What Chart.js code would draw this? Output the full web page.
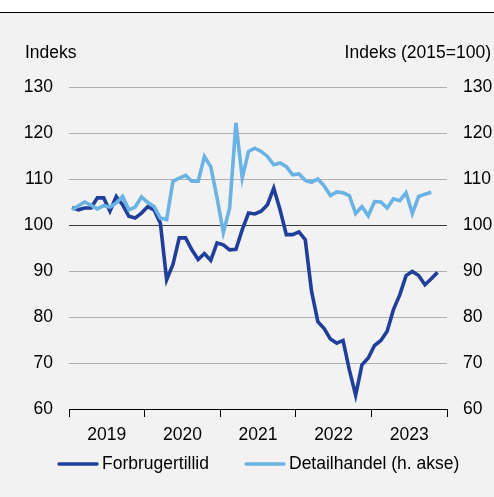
<!DOCTYPE html>
<html><head><meta charset="utf-8">
<script src="https://cdn.jsdelivr.net/npm/chart.js@4.4.0/dist/chart.umd.min.js"></script>
<style>html,body{margin:0;padding:0;background:#f2f2f2;overflow:hidden}#wrap{width:494px;height:497px;position:relative}</style>
</head><body><div id="wrap"><canvas id="c" width="494" height="497"></canvas></div>
<script>
const years = ['2019', '2020', '2021', '2022', '2023'];
const seriesNames = ['Forbrugertillid', 'Detailhandel (h. akse)'];
const leftTitle = 'Indeks';
const rightTitle = 'Indeks (2015=100)';
// Monthly values, Jan 2019 onwards
const forbrugertillid = [103.8, 103.3, 103.7, 103.7, 105.9, 105.9, 103.0, 106.2, 104.4, 101.9, 101.5, 102.6,
  104.0, 103.3, 100.4, 88.1, 91.4, 97.2, 97.2, 94.6, 92.5, 93.8, 92.3, 96.1,
  95.7, 94.6, 94.7, 99.0, 102.6, 102.4, 103.0, 104.4, 108.0, 103.3, 97.9, 97.9,
  98.5, 96.8, 85.6, 79.0, 77.5, 75.2, 74.3, 74.9, 68.5, 63.0, 69.6, 71.1,
  73.8, 74.9, 76.9, 81.6, 84.8, 89.0, 89.9, 89.0, 87.0, 88.3, 89.7];
const detailhandel = [103.3, 104.2, 105.0, 104.3, 103.5, 104.2, 103.9, 104.8, 106.2, 103.3, 103.9, 106.1,
  104.9, 104.0, 101.5, 101.2, 109.5, 110.2, 110.8, 109.5, 109.5, 114.9, 112.7, 105.9,
  98.4, 103.7, 122.2, 110.2, 116.0, 116.7, 116.0, 114.9, 113.1, 113.5, 112.7, 110.9,
  111.1, 109.7, 109.3, 110.0, 108.5, 106.4, 107.2, 107.0, 106.4, 102.5, 104.0, 102.0,
  105.1, 105.0, 103.7, 105.7, 105.3, 107.0, 102.5, 106.2, 106.7, 107.1];
const yTicks = [60, 70, 80, 90, 100, 110, 120, 130];

const FONT = '"Liberation Sans", Arial, sans-serif';
const FS = 17.5;
Chart.defaults.font.family = FONT;
Chart.defaults.font.size = FS;
Chart.defaults.color = '#000';

const deco = {
  id: 'deco',
  beforeDraw(chart) {
    const c = chart.ctx;
    c.save();
    c.fillStyle = '#ffffff';
    c.fillRect(0, 0, chart.width, 12);
    c.fillStyle = '#f2f2f2';
    c.fillRect(0, 13, chart.width, chart.height - 13);
    c.fillStyle = '#000000';
    c.fillRect(0, 12, chart.width, 1);
    c.restore();
  },
  afterDraw(chart) {
    const c = chart.ctx;
    c.save();
    c.font = FS + 'px ' + FONT;
    c.fillStyle = '#000';
    c.textBaseline = 'alphabetic';
    c.textAlign = 'left';
    c.fillText(leftTitle, 25, 58);
    c.textAlign = 'right';
    c.fillText(rightTitle, 491, 58);
    // legend
    const starts = [58, 245];
    c.textAlign = 'left';
    c.textBaseline = 'middle';
    chart.data.datasets.forEach((ds, i) => {
      const x0 = starts[i], y = 464;
      c.strokeStyle = ds.borderColor;
      c.lineWidth = 3.5;
      c.lineCap = 'round';
      c.beginPath(); c.moveTo(x0 + 1, y); c.lineTo(x0 + 39, y); c.stroke();
      c.fillStyle = '#000';
      c.fillText(ds.label, x0 + 44, y);
    });
    c.restore();
  }
};

new Chart(document.getElementById('c'), {
  type: 'line',
  data: {
    datasets: [
      { label: seriesNames[0], data: forbrugertillid.map((v, i) => ({ x: i + 0.5, y: v })),
        borderColor: '#1f3f9b', borderWidth: 3.6, pointRadius: 0, tension: 0, yAxisID: 'y', order: 1 },
      { label: seriesNames[1], data: detailhandel.map((v, i) => ({ x: i + 0.5, y: v })),
        borderColor: '#6ab3e4', borderWidth: 3.6, pointRadius: 0, tension: 0, yAxisID: 'y1', order: 0 }
    ]
  },
  options: {
    responsive: false,
    animation: false,
    layout: { padding: { top: 87, left: 0, right: 0, bottom: 0 } },
    plugins: { legend: { display: false }, tooltip: { enabled: false } },
    scales: {
      x: {
        type: 'linear', min: 0, max: 60, position: 'bottom',
        afterFit: s => { s.height = 88; },
        ticks: { stepSize: 6, autoSkip: false, maxRotation: 0, padding: 8,
          callback: v => (v % 12 === 6) ? years[(v - 6) / 12] : '' },
        grid: { drawOnChartArea: false, drawTicks: true, tickLength: 8, lineWidth: 1,
          color: ctx => (ctx.tick && ctx.tick.value % 12 === 0) ? '#000' : 'rgba(0,0,0,0)' },
        border: { display: true, color: '#000', width: 1 }
      },
      y: {
        position: 'left', min: 60, max: 130,
        afterFit: s => { s.width = 69; },
        afterBuildTicks: s => { s.ticks = yTicks.map(v => ({ value: v })); },
        ticks: { padding: 16 },
        grid: { drawTicks: false, lineWidth: 1,
          color: ctx => ctx.tick.value === 100 ? '#3a3a3a' : (ctx.tick.value === 60 ? 'rgba(0,0,0,0)' : '#b0b0b0') },
        border: { display: false }
      },
      y1: {
        position: 'right', min: 60, max: 130,
        afterFit: s => { s.width = 47; },
        afterBuildTicks: s => { s.ticks = yTicks.map(v => ({ value: v })); },
        ticks: { padding: 16 },
        grid: { display: false, drawTicks: false },
        border: { display: false }
      }
    }
  },
  plugins: [deco]
});
</script>
</body></html>
